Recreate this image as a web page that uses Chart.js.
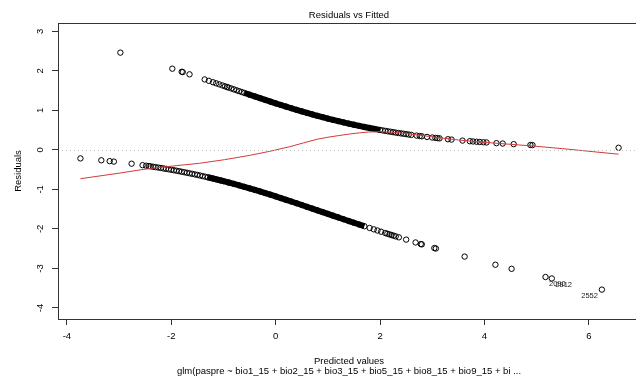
<!DOCTYPE html>
<html><head><meta charset="utf-8">
<script src="https://cdn.jsdelivr.net/npm/chart.js@4.4.0/dist/chart.umd.min.js"></script>
<style>
html,body{margin:0;padding:0;background:#fff;overflow:hidden;width:636px;height:378px}
#wrap{position:absolute;left:0;top:0;width:650px;height:378px}
</style>
</head><body><div id="wrap"><canvas id="c" width="650" height="378"></canvas></div>
<script>
const chartTitle = 'Residuals vs Fitted';
const xAxisTitle = 'Predicted values';
const yAxisTitle = 'Residuals';
const subCaption = 'glm(paspre ~ bio1_15 + bio2_15 + bio3_15 + bio5_15 + bio8_15 + bio9_15 + bi ...';
const xTicks = [-4, -2, 0, 2, 4, 6];
const yTicks = [-4, -3, -2, -1, 0, 1, 2, 3];
const xRange = [-4.17, 6.98];
const yRange = [-4.28, 3.21];

// upper branch (observed = 1)
const upperEta = [-2.975,-1.98,-1.80,-1.78,-1.65,-1.36,-1.28,-1.20,-1.14,-1.08,-1.02,-0.97,-0.93,-0.90,-0.85,-0.80,-0.75,-0.70,-0.65,-0.60,
  -0.5,-0.4,-0.3,-0.2,-0.1,0,0.1,0.2,0.3,0.4,0.5,0.6,0.7,0.8,0.9,1.0,1.1,1.2,1.3,1.4,1.5,1.6,1.7,1.8,1.9,2.0,
  2.05,2.1,2.15,2.2,2.25,2.3,2.35,2.4,2.45,2.5,2.55,2.6,2.7,2.76,2.8,2.9,3.0,3.06,3.1,3.14,3.30,3.37,3.58,3.72,3.78,3.85,3.91,3.98,4.04,4.23,4.35,4.56,4.88,4.92,6.57];
const upperRes = [2.46,2.054,1.976,1.968,1.911,1.782,1.747,1.7107,1.684,1.657,1.630,1.607,1.589,1.5755,1.553,1.5304,1.5079,1.4854,1.4629,1.4405,
  1.3958,1.3513,1.3072,1.2634,1.2202,1.1774,1.1352,1.0937,1.053,1.0129,0.9737,0.9354,0.898,0.8615,0.826,0.7915,0.7581,0.7256,0.6943,0.664,0.6347,0.6065,0.5793,0.5532,0.528,0.5038,
  0.4921,0.4806,0.4694,0.4584,0.4477,0.4372,0.4268,0.4167,0.4069,0.3972,0.3878,0.3786,0.3607,0.3503,0.3436,0.3273,0.3117,0.3027,0.2968,0.2911,0.2691,0.260,0.2345,0.2188,0.2124,0.2052,0.1992,0.1924,0.1868,0.170,0.1602,0.1443,0.1230,0.1208,0.053];

// lower branch (observed = 0)
const lowerEta = [-3.74,-3.34,-3.18,-3.10,-2.76,-2.55,-2.48,-2.43,-2.40,-2.35,-2.30,-2.25,-2.20,-2.15,-2.10,-2.05,-2.00,-1.95,-1.90,-1.85,-1.80,-1.75,-1.70,-1.65,-1.60,-1.55,-1.50,-1.45,-1.40,-1.35,-1.30,-1.25,-1.20,-1.15,-1.10,-1.05,-1.00,
  -0.9,-0.8,-0.7,-0.6,-0.5,-0.4,-0.3,-0.2,-0.1,0,0.1,0.2,0.3,0.4,0.5,0.6,0.7,0.8,0.9,1.0,1.1,1.2,1.3,1.4,1.5,1.6,1.7,1.8,
  1.88,1.95,2.02,2.10,2.14,2.18,2.22,2.26,2.30,2.36,2.50,2.68,2.78,2.80,3.04,3.07,3.62,4.21,4.52,5.17,5.29,6.25];
const lowerRes = [-0.2166,-0.2639,-0.2855,-0.2968,-0.3503,-0.3878,-0.4011,-0.4108,-0.4167,-0.4268,-0.4372,-0.4477,-0.4584,-0.4694,-0.4806,-0.4921,-0.5038,-0.5158,-0.528,-0.5404,-0.5532,-0.5661,-0.5793,-0.5928,-0.6065,-0.6204,-0.6347,-0.6492,-0.664,-0.679,-0.6943,-0.7098,-0.7256,-0.7417,-0.7581,-0.7747,-0.7915,
  -0.826,-0.8615,-0.898,-0.9354,-0.9737,-1.0129,-1.053,-1.0937,-1.1352,-1.1774,-1.2202,-1.2634,-1.3072,-1.3513,-1.3958,-1.4405,-1.4854,-1.5304,-1.5755,-1.6207,-1.6657,-1.7107,-1.7556,-1.8002,-1.8447,-1.8889,-1.9328,-1.9764,
  -2.011,-2.041,-2.071,-2.105,-2.122,-2.139,-2.155,-2.172,-2.189,-2.2137,-2.2711,-2.3436,-2.3834,-2.391,-2.485,-2.496,-2.7006,-2.9068,-3.0103,-3.2175,-3.2542,-3.5361];

// red smoother
const smoothEta = [-3.74,-3.0,-2.35,-1.46,-0.5,0.27,0.8,1.2,1.6,1.95,2.3,2.7,3.5,4.2,4.9,5.5,6.57];
const smoothRes = [-0.73,-0.59,-0.46,-0.34,-0.14,0.08,0.27,0.36,0.43,0.46,0.44,0.38,0.25,0.17,0.10,0.03,-0.11];

// labelled observations
const labelIds = ['2090', '2812', '2552'];
const labelEta = [5.17, 5.29, 6.25];
const labelRes = [-3.2175, -3.2542, -3.5361];
const labelSide = ['right', 'right', 'left'];

// ranges where points overlap into a solid band
const upperBand = [-0.6, 2.0];
const lowerBand = [-1.3, 1.7];

const toPts = (xs, ys) => xs.map((v, i) => ({x: v, y: ys[i]}));
const inBand = (pts, b) => pts.filter(p => p.x >= b[0] && p.x <= b[1]);
const upperPts = toPts(upperEta, upperRes);
const lowerPts = toPts(lowerEta, lowerRes);

const FONT = '"Liberation Sans", Arial, sans-serif';

const decor = {
  id: 'decor',
  afterDatasetsDraw(chart) {
    const {ctx, chartArea: a, scales: {x, y}} = chart;
    ctx.save();
    const y0 = Math.round(y.getPixelForValue(0)) + 0.5;
    ctx.strokeStyle = '#BEBEBE';
    ctx.lineWidth = 1;
    ctx.setLineDash([1, 3]);
    ctx.beginPath(); ctx.moveTo(a.left, y0); ctx.lineTo(a.right, y0); ctx.stroke();
    ctx.setLineDash([]);
    ctx.fillStyle = '#222';
    ctx.font = '7.5px ' + FONT;
    ctx.textBaseline = 'middle';
    labelIds.forEach((id, i) => {
      const px = x.getPixelForValue(labelEta[i]);
      const py = y.getPixelForValue(labelRes[i]) + 6.5;
      if (labelSide[i] === 'right') { ctx.textAlign = 'left'; ctx.fillText(id, px + 3.5, py); }
      else { ctx.textAlign = 'right'; ctx.fillText(id, px - 4, py); }
    });
    ctx.restore();
  },
  afterDraw(chart) {
    const {ctx, chartArea: a} = chart;
    ctx.save();
    ctx.strokeStyle = '#333';
    ctx.lineWidth = 1;
    ctx.strokeRect(Math.round(a.left) + 0.5, Math.round(a.top) + 0.5, Math.round(a.right - a.left), Math.round(a.bottom - a.top));
    const cx = (a.left + a.right) / 2;
    ctx.fillStyle = '#000';
    ctx.font = '9.5px ' + FONT;
    ctx.textAlign = 'center';
    ctx.textBaseline = 'middle';
    ctx.fillText(chartTitle, cx, 15);
    ctx.fillText(xAxisTitle, cx, 361);
    ctx.fillText(subCaption, cx, 371.5);
    ctx.translate(18, (a.top + a.bottom) / 2);
    ctx.rotate(-Math.PI / 2);
    ctx.fillText(yAxisTitle, 0, 0);
    ctx.restore();
  }
};

new Chart(document.getElementById('c'), {
  type: 'scatter',
  data: {
    datasets: [
      { label: 'smooth', data: toPts(smoothEta, smoothRes), showLine: true, borderColor: '#D23A3A', borderWidth: 1,
        pointRadius: 0, cubicInterpolationMode: 'monotone', order: 0 },
      { label: 'upper', data: upperPts, showLine: false, pointStyle: 'circle', pointRadius: 2.7, borderWidth: 1,
        borderColor: '#000', backgroundColor: 'rgba(0,0,0,0)', order: 1 },
      { label: 'lower', data: lowerPts, showLine: false, pointStyle: 'circle', pointRadius: 2.7, borderWidth: 1,
        borderColor: '#000', backgroundColor: 'rgba(0,0,0,0)', order: 1 },
      { label: 'upperBand', data: inBand(upperPts, upperBand), showLine: true, borderColor: '#000', borderWidth: 6,
        pointRadius: 0, cubicInterpolationMode: 'monotone', order: 2 },
      { label: 'lowerBand', data: inBand(lowerPts, lowerBand), showLine: true, borderColor: '#000', borderWidth: 6,
        pointRadius: 0, cubicInterpolationMode: 'monotone', order: 2 }
    ]
  },
  options: {
    responsive: false,
    animation: false,
    devicePixelRatio: 1,
    events: [],
    layout: { padding: { left: 0, right: 10, top: 23, bottom: 0 } },
    plugins: { legend: { display: false }, tooltip: { enabled: false }, title: { display: false } },
    scales: {
      x: {
        type: 'linear', min: xRange[0], max: xRange[1],
        afterBuildTicks: s => { s.ticks = xTicks.map(v => ({value: v})); },
        afterFit: s => { s.height = 59; },
        grid: { display: true, drawOnChartArea: false, drawTicks: true, tickLength: 6, color: '#333', lineWidth: 1 },
        border: { display: false },
        ticks: { padding: 6, color: '#000', font: { family: FONT, size: 9.5 }, maxRotation: 0, minRotation: 0 }
      },
      y: {
        type: 'linear', min: yRange[0], max: yRange[1],
        afterBuildTicks: s => { s.ticks = yTicks.map(v => ({value: v})); },
        afterFit: s => { s.width = 58; },
        grid: { display: true, drawOnChartArea: false, drawTicks: true, tickLength: 6, color: '#333', lineWidth: 1 },
        border: { display: false },
        ticks: { padding: 7, color: '#000', font: { family: FONT, size: 9.5 }, minRotation: 90, maxRotation: 90, crossAlign: 'center' }
      }
    }
  },
  plugins: [decor]
});
</script>
</body></html>
